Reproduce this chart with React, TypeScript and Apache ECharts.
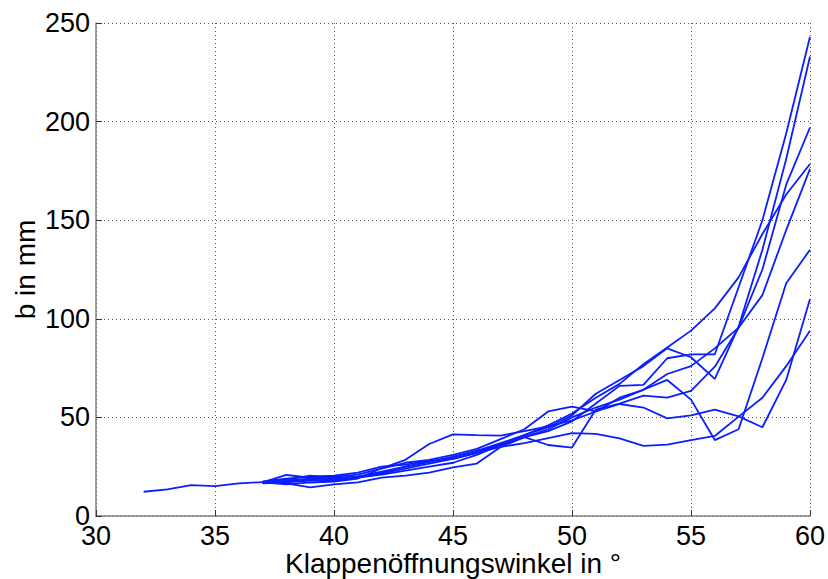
import React, { useEffect, useRef } from "react";
import * as echarts from "echarts";

const angles = [32, 33, 34, 35, 36, 37, 38, 39, 40, 41, 42, 43, 44, 45, 46, 47, 48, 49, 50, 51, 52, 53, 54, 55, 56, 57, 58, 59, 60];

const N = null;
const run1 = [N, N, N, N, N, 16.5, 17, 18, 18, 19.5, 21, 23, 25, 27, 31, 36, 40, 43, 48, 57, 66, 66.5, 80, 82, 82, 116, 150, 194, 243];
const run2 = [N, N, N, N, N, 17.5, 19, 20, 20.5, 22, 25, 26, 28, 29, 32, 36.5, 41, 45, 51, 62, 69, 76, 85, 80.5, 69.5, 96, 135, 181, 233];
const run3 = [N, N, N, N, N, 17, 16, 17, 17.5, 19, 24.2, 28.5, 36.5, 41.4, 41, 40.8, 43, 45.5, 48.5, 53, 60, 64, 72, 76, 85, 95.5, 125, 168, 197];
const run4 = [N, N, N, N, N, 17, 18, 19, 19, 20, 22, 25, 27.5, 30, 33, 37, 41, 46, 52, 60, 67, 77, 85.5, 94, 105.3, 121, 143, 163, 178.5];
const run5 = [N, N, N, N, N, 17, 16.5, 14.5, 16, 17, 19.5, 20.5, 22, 24.7, 26.6, 35, 40, 36, 34.7, 54, 57, 61, 60, 63.5, 75.7, 95.5, 112, 145, 176];
const run6 = [N, N, N, N, N, 17, 18.5, 20.5, 19.5, 20, 22.5, 25, 27.5, 30, 33, 36, 40, 44, 50, 55, 59, 64, 69, 59, 38.5, 44, 80, 118, 135];
const run7 = [N, N, N, N, N, 17, 20.8, 19.5, 20, 21, 24, 27, 28.5, 31, 34, 39, 44, 53, 55.5, 53, 56.8, 55, 49.5, 51, 54, 50.5, 45, 69, 110];
const run8 = [12.3, 13.5, 15.7, 15.2, 16.5, 17.2, 17.5, 18.5, 18.5, 19.5, 21.5, 24, 26.5, 29, 32, 35, 37, 39.5, 42, 41.6, 39.4, 35.6, 36.2, 38.5, 40.6, 50.4, 60, 76, 94];

const runs = [run1, run2, run3, run4, run5, run6, run7, run8];

const xTicks = [30, 35, 40, 45, 50, 55, 60];
const yTicks = [0, 50, 100, 150, 200, 250];

const FONT = "'Liberation Sans', Arial, Helvetica, sans-serif";

export default function App() {
  const ref = useRef<HTMLDivElement>(null);
  useEffect(() => {
    if (!ref.current) return;
    const chart = echarts.init(ref.current, null, { renderer: "svg" });
    const series = runs.map((r, i) => ({
      type: "line",
      name: "run" + (i + 1),
      data: angles
        .map((a, j) => [a, r[j]])
        .filter((p) => p[1] !== null),
      showSymbol: false,
      symbol: "none",
      lineStyle: { color: "#0a1eff", width: 1.8 },
      z: 3,
    }));
    chart.setOption({
      animation: false,
      backgroundColor: "#ffffff",
      grid: { left: 96, right: 18, top: 23, bottom: 63, containLabel: false, outerBoundsMode: "none" },
      xAxis: {
        type: "value",
        min: xTicks[0],
        max: xTicks[xTicks.length - 1],
        interval: 5,
        name: "Klappenöffnungswinkel in °",
        nameLocation: "middle",
        nameGap: 35,
        nameMoveOverlap: false,
        nameTextStyle: { fontFamily: FONT, fontSize: 28, lineHeight: 24, color: "#000" },
        axisLine: { show: true, onZero: false, lineStyle: { color: "#808080", width: 1.5 } },
        axisTick: { show: true, inside: true, length: 6, lineStyle: { color: "#333" } },
        axisLabel: { fontFamily: FONT, fontSize: 27, lineHeight: 22, color: "#000", margin: 9 },
        splitLine: { show: true, lineStyle: { color: "#555", type: [1, 3], width: 1 } },
      },
      yAxis: {
        type: "value",
        min: yTicks[0],
        max: yTicks[yTicks.length - 1],
        interval: 50,
        name: "b in mm",
        nameLocation: "middle",
        nameGap: 57,
        nameMoveOverlap: false,
        nameTextStyle: { fontFamily: FONT, fontSize: 28, color: "#000" },
        axisLine: { show: true, lineStyle: { color: "#808080", width: 1.5 } },
        axisTick: { show: true, inside: true, length: 6, lineStyle: { color: "#333" } },
        axisLabel: { fontFamily: FONT, fontSize: 27, color: "#000", margin: 6 },
        splitLine: { show: true, lineStyle: { color: "#555", type: [1, 3], width: 1 } },
      },
      series,
    });
    return () => chart.dispose();
  }, []);
  return (
    <div
      ref={ref}
      style={{ position: "fixed", left: 0, top: 0, width: 828, height: 579, background: "#fff" }}
    />
  );
}
